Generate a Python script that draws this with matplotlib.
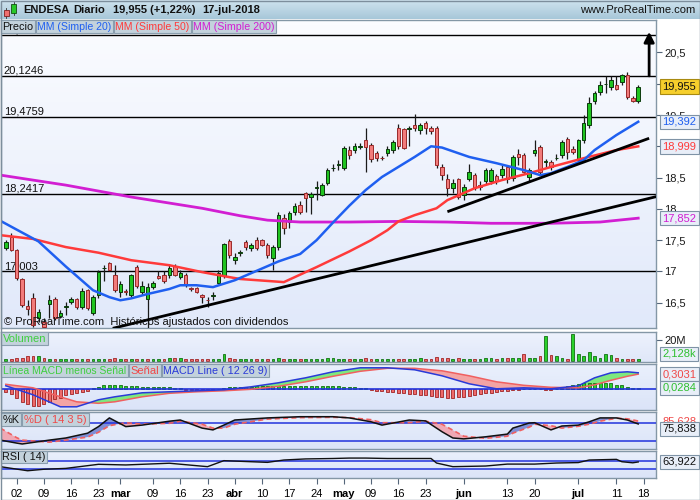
import numpy as np
import pandas as pd
import matplotlib
matplotlib.use("Agg")
import matplotlib.pyplot as plt
from matplotlib.patches import Rectangle
from matplotlib.colors import LinearSegmentedColormap

plt.rcParams['font.family'] = ['Liberation Sans', 'DejaVu Sans']

# ---------------- data ----------------
session_start = "2018-01-30"
session_end = "2018-07-20"
holidays = ["2018-03-30", "2018-04-02", "2018-05-01"]
first_day = "2018-01-31"

opens = [17.38, 17.55, 17.34, 16.88, 16.45, 16.58, 16.26, 16.20, 16.48, 16.56,
         16.29, 16.44, 16.51, 16.56, 16.43, 16.70, 16.34, 16.62, 17.05, 17.14,
         16.94, 16.67, 16.69, 16.62, 17.07, 16.67, 16.56, 16.75, 16.93, 16.94,
         16.94, 17.09, 16.91, 16.94, 16.73, 16.74, 16.62, 16.55, 16.61, 16.82,
         16.93, 17.49, 17.18, 17.30, 17.47, 17.38, 17.50, 17.50, 17.42, 17.22,
         17.39, 17.85, 17.79, 17.95, 18.06, 18.25, 18.19, 18.34, 18.22, 18.41,
         18.65, 18.70, 18.65, 18.94, 18.94, 18.99, 19.10, 19.02, 18.89, 18.82,
         18.89, 18.94, 19.29, 19.27, 19.28, 19.34, 19.26, 19.37, 19.29, 19.29,
         18.67, 18.48, 18.33, 18.48, 18.22, 18.48, 18.54, 18.38, 18.44, 18.45,
         18.52, 18.54, 18.67, 18.49, 18.88, 18.86, 18.51, 18.89, 18.99, 18.75,
         18.75, 18.81, 18.86, 19.11, 18.95, 18.78, 19.10, 19.34, 19.72, 19.87,
         19.99, 19.95, 19.98, 20.03, 20.14, 19.77, 19.72]
highs = [17.50, 17.62, 17.36, 16.90, 16.55, 16.66, 16.40, 16.25, 16.62, 16.60,
         16.38, 16.52, 16.60, 16.58, 16.73, 16.72, 16.62, 17.03, 17.10, 17.15,
         17.10, 16.85, 16.72, 16.96, 17.10, 16.85, 16.82, 16.85, 17.00, 17.00,
         17.12, 17.12, 17.03, 16.97, 16.76, 16.76, 16.64, 16.60, 16.68, 17.02,
         17.45, 17.52, 17.30, 17.35, 17.50, 17.45, 17.55, 17.52, 17.46, 17.42,
         17.95, 17.92, 17.97, 18.10, 18.12, 18.27, 18.27, 18.45, 18.42, 18.65,
         18.72, 18.78, 19.00, 19.00, 19.05, 19.05, 19.29, 19.05, 18.93, 18.85,
         19.00, 19.10, 19.35, 19.30, 19.32, 19.52, 19.38, 19.40, 19.32, 19.32,
         18.72, 18.55, 18.48, 18.50, 18.40, 18.72, 18.58, 18.45, 18.65, 18.65,
         18.56, 18.70, 18.70, 18.86, 18.95, 18.90, 18.65, 19.10, 19.02, 18.80,
         18.78, 18.88, 19.10, 19.15, 19.00, 19.12, 19.50, 19.78, 19.88, 20.05,
         20.12, 20.12, 20.12, 20.15, 20.18, 19.80, 19.98]
lows = [17.35, 17.32, 16.87, 16.44, 16.30, 16.12, 16.20, 16.10, 16.25, 16.22,
        16.25, 16.30, 16.48, 16.40, 16.40, 16.38, 16.30, 16.58, 16.85, 17.00,
        16.68, 16.60, 16.62, 16.60, 16.73, 16.63, 16.05, 16.72, 16.88, 16.82,
        16.90, 16.92, 16.88, 16.75, 16.69, 16.65, 16.50, 16.44, 16.55, 16.80,
        16.90, 17.22, 17.12, 17.25, 17.35, 17.33, 17.35, 17.40, 17.22, 17.02,
        17.35, 17.60, 17.70, 17.90, 17.92, 17.95, 17.92, 18.15, 18.20, 18.38,
        18.60, 18.62, 18.62, 18.80, 18.90, 18.95, 18.59, 18.75, 18.76, 18.78,
        18.85, 18.90, 18.95, 18.95, 19.00, 19.25, 19.20, 19.20, 19.20, 18.65,
        18.46, 18.20, 18.25, 18.16, 18.14, 18.45, 18.30, 18.30, 18.40, 18.40,
        18.40, 18.50, 18.42, 18.45, 18.70, 18.55, 18.45, 18.85, 18.55, 18.65,
        18.62, 18.78, 18.82, 18.80, 18.88, 18.75, 19.05, 19.30, 19.68, 19.82,
        19.85, 19.90, 19.90, 19.98, 19.75, 19.70, 19.69]
closes = [17.47, 17.34, 16.90, 16.47, 16.40, 16.15, 16.36, 16.12, 16.54, 16.26,
          16.34, 16.45, 16.56, 16.43, 16.69, 16.42, 16.59, 16.99, 17.06, 17.02,
          16.71, 16.80, 16.67, 16.94, 16.77, 16.77, 16.75, 16.82, 16.90, 16.85,
          17.06, 16.94, 16.98, 16.78, 16.72, 16.67, 16.60, 16.54, 16.62, 16.98,
          17.44, 17.26, 17.23, 17.31, 17.39, 17.42, 17.37, 17.42, 17.26, 17.39,
          17.90, 17.69, 17.93, 18.05, 17.95, 18.17, 18.24, 18.35, 18.38, 18.62,
          18.66, 18.71, 18.97, 18.86, 19.00, 19.00, 18.99, 18.80, 18.81, 18.81,
          18.96, 19.07, 19.00, 18.98, 19.29, 19.29, 19.34, 19.29, 19.24, 18.70,
          18.54, 18.33, 18.41, 18.19, 18.35, 18.59, 18.33, 18.35, 18.62, 18.62,
          18.44, 18.64, 18.47, 18.83, 18.83, 18.59, 18.62, 18.94, 18.59, 18.75,
          18.67, 18.82, 19.07, 18.91, 18.91, 19.10, 19.37, 19.69, 19.85, 19.98,
          20.00, 20.06, 19.92, 20.14, 19.79, 19.72, 19.955]
volumes_m = [1.6, 1.6, 2.5, 3.1, 4.5, 4.5, 5.0, 2.5, 2.2, 1.6,
             1.6, 1.8, 1.6, 1.5, 1.8, 1.6, 1.6, 2.0, 1.6, 1.6,
             2.5, 1.6, 1.5, 1.6, 1.8, 1.6, 2.0, 1.6, 1.5, 2.0,
             2.5, 2.5, 2.5, 1.6, 1.6, 1.6, 1.8, 2.0, 1.6, 2.2,
             7.0, 2.5, 1.6, 1.6, 1.6, 1.6, 2.0, 1.6, 1.6, 2.0,
             2.5, 1.6, 1.6, 1.6, 1.6, 2.0, 1.6, 1.6, 1.6, 2.5,
             2.5, 1.6, 1.6, 1.6, 1.6, 1.6, 3.0, 1.6, 1.6, 1.6,
             1.6, 1.6, 1.6, 1.6, 1.6, 1.6, 2.5, 2.0, 1.6, 4.0,
             2.5, 2.5, 2.0, 2.5, 2.0, 2.0, 2.0, 2.0, 2.5, 2.5,
             2.0, 2.5, 3.0, 2.5, 3.0, 6.5, 2.5, 2.5, 4.8, 24.0,
             5.7, 4.8, 3.2, 1.6, 26.0, 6.4, 4.8, 8.5, 4.8, 3.2,
             7.0, 5.7, 3.2, 1.6, 1.6, 1.6, 2.128]
macd_hist = [-0.05, -0.10, -0.18, -0.25, -0.30, -0.33, -0.33, -0.30, -0.25, -0.20,
             -0.17, -0.12, -0.10, -0.08, -0.05, -0.03, 0.02,
             0.05, 0.08, 0.09, 0.09, 0.08, 0.07, 0.07, 0.06, 0.05, 0.05, 0.05, 0.04,
             0.04, 0.04, 0.03, 0.02,
             -0.01, -0.02, -0.03, -0.03, -0.03, -0.02, 0.00,
             0.03, 0.04, 0.04, 0.05, 0.05, 0.05, 0.06, 0.06, 0.06, 0.06, 0.07, 0.07,
             0.07, 0.07, 0.07, 0.07, 0.07, 0.07, 0.07, 0.07, 0.06, 0.06, 0.05,
             0.04, 0.04, 0.03, 0.02,
             -0.02, -0.03, -0.04, -0.05, -0.06, -0.07, -0.08, -0.09, -0.10, -0.11,
             -0.12, -0.13, -0.15, -0.16, -0.17, -0.17, -0.16, -0.15, -0.13, -0.12,
             -0.10, -0.08, -0.07, -0.05, -0.04, -0.03,
             -0.02, -0.01, 0.00, 0.01, 0.01, 0.00, -0.01, -0.01,
             0.01, 0.03, 0.06, 0.08, 0.10, 0.12, 0.13, 0.13, 0.13, 0.13, 0.12, 0.09,
             0.08, 0.05, 0.03, 0.0284]

ma20_dates = ['01-30', '02-08', '02-15', '02-22', '02-27', '03-01', '03-05', '03-08',
              '03-14', '03-16', '03-21', '03-26', '04-03', '04-13', '04-19', '04-24',
              '04-27', '05-03', '05-08', '05-11', '05-16', '05-21', '05-24', '05-28',
              '06-04', '06-11', '06-18', '06-21', '06-25', '06-28', '07-03', '07-05',
              '07-11', '07-17']
ma20_vals = [17.81, 17.48, 17.08, 16.70, 16.59, 16.54, 16.57, 16.64, 16.72, 16.78,
             16.78, 16.75, 16.86, 17.16, 17.28, 17.50, 17.78, 18.05, 18.30, 18.51,
             18.67, 18.83, 19.00, 18.98, 18.83, 18.73, 18.62, 18.54, 18.57, 18.67,
             18.78, 18.94, 19.18, 19.392]
ma50_dates = ['01-30', '02-07', '02-15', '02-23', '03-05', '03-14', '03-22', '03-29',
              '04-04', '04-16', '04-24', '05-03', '05-09', '05-14', '05-16', '05-21',
              '05-25', '05-29', '06-05', '06-12', '06-19', '06-25', '07-03', '07-11',
              '07-17']
ma50_vals = [17.58, 17.52, 17.39, 17.30, 17.18, 17.10, 16.99, 16.91, 16.88, 16.83,
             17.07, 17.32, 17.50, 17.66, 17.80, 17.90, 18.01, 18.14, 18.33, 18.46,
             18.57, 18.67, 18.81, 18.94, 18.999]
ma200_dates = ['01-30', '02-15', '03-05', '03-22', '04-04', '04-11', '04-19', '05-03',
               '05-16', '05-29', '06-08', '06-25', '07-06', '07-17']
ma200_vals = [18.54, 18.38, 18.19, 18.01, 17.89, 17.82, 17.79, 17.79, 17.80, 17.79,
              17.77, 17.77, 17.79, 17.852]

macd_dates = ['01-31', '02-07', '02-14', '02-19', '02-23', '02-28', '03-07', '03-14',
              '03-21', '03-28', '04-06', '04-13', '04-20', '04-27', '05-07', '05-14',
              '05-21', '05-28', '06-04', '06-11', '06-18', '06-25', '07-02', '07-05',
              '07-10', '07-13', '07-17']
macd_line = [0.07, -0.11, -0.35, -0.35, -0.21, -0.15, -0.07, -0.05, -0.03, -0.01,
             0.05, 0.13, 0.23, 0.35, 0.43, 0.43, 0.39, 0.27, 0.11, 0.01, 0.03, 0.01,
             0.07, 0.23, 0.33, 0.35, 0.33]
macd_signal = [0.10, 0.03, -0.15, -0.25, -0.28, -0.25, -0.15, -0.08, -0.05, -0.03,
               0.00, 0.06, 0.15, 0.26, 0.36, 0.42, 0.42, 0.37, 0.27, 0.15, 0.08, 0.04,
               0.03, 0.09, 0.18, 0.26, 0.3031]

stoch_dates = ['01-30', '02-02', '02-05', '02-12', '02-15', '02-21', '02-23', '02-27',
               '03-02', '03-07', '03-14', '03-16', '03-22', '03-26', '03-28', '04-03',
               '04-11', '04-19', '04-27', '05-03', '05-09', '05-11', '05-18', '05-23',
               '05-28', '05-30', '06-01', '06-07', '06-13', '06-14', '06-19', '06-20',
               '06-25', '06-27', '07-02', '07-04', '07-06', '07-11', '07-13', '07-17']
stoch_k = [22, 12, 9, 22, 29, 45, 67, 96, 67, 72, 85, 89, 62, 56, 72, 89, 96, 100, 100, 96,
           83, 72, 89, 86, 50, 29, 26, 33, 42, 62, 79, 80, 56, 69, 72, 83, 96, 96, 89, 75.838]
stoch_d = [62, 30, 22, 15, 22, 32, 48, 70, 80, 75, 78, 85, 75, 62, 62, 75, 92, 97, 98, 97,
           90, 80, 80, 85, 75, 55, 35, 28, 35, 45, 65, 75, 70, 62, 68, 75, 85, 95, 93, 85.628]

rsi_dates = ['01-30', '02-06', '02-09', '02-15', '02-23', '03-02', '03-14', '03-23',
             '03-28', '04-11', '04-16', '04-20', '04-27', '05-03', '05-08', '05-14',
             '05-24', '05-25', '05-30', '06-07', '06-13', '06-20', '06-26', '07-02',
             '07-04', '07-11', '07-12', '07-16', '07-17']
rsi_vals = [42, 23, 30, 34, 53, 50, 58, 42, 70, 62, 73, 78, 80, 82, 82, 80, 80, 59, 42,
            45, 54, 54, 59, 61, 73, 76, 65, 60, 63.922]

level_vals = [20.7733, 20.1246, 19.4759, 18.2417, 17.003]
level_labels = ['20,7733', '20,1246', '19,4759', '18,2417', '17,003']
trend_long = [('02-28', 16.10), ('07-17', 18.126)]
trend_short = [('05-29', 17.955), ('07-19', 19.128)]
arrow_date = '07-19'
arrow_from, arrow_to = 20.1246, 20.83

price_ticks = [16.5, 17, 17.5, 18, 18.5, 19, 19.5, 20, 20.5]
price_tick_labels = ['16,5', '17', '17,5', '18', '18,5', '', '19,5', '', '20,5']

tick_dates = ['02-02', '02-09', '02-16', '02-23', '03-01', '03-09', '03-16', '03-23',
              '04-03', '04-10', '04-17', '04-24', '05-02', '05-09', '05-16', '05-23',
              '06-01', '06-13', '06-20', '07-02', '07-11', '07-18']
tick_labels = ['02', '09', '16', '23', 'mar', '09', '16', '23', 'abr', '10', '17', '24',
               'may', '09', '16', '23', 'jun', '13', '20', 'jul', '11', '18']
month_labels = {'mar', 'abr', 'may', 'jun', 'jul'}

# ---------------- calendar ----------------
cal = pd.bdate_range(session_start, session_end)
cal = cal[~cal.isin(pd.to_datetime(holidays))]
pos = {d: i for i, d in enumerate(cal)}


def P(md):
    return pos[pd.Timestamp('2018-' + md)]


def PL(mds):
    return np.array([P(m) for m in mds], dtype=float)


x0 = pos[pd.Timestamp(first_day)]
xd = np.arange(len(closes)) + x0
o, h, l, c = map(np.array, (opens, highs, lows, closes))
XLIM = (0.12, 120.26)

# ---------------- figure ----------------
W, H = 700, 500
fig = plt.figure(figsize=(7, 5), dpi=100)
fig.patch.set_facecolor('white')


def rect(a, b, cc, d):
    return [a / W, 1 - d / H, (cc - a) / W, (d - b) / H]


def grad(ax, top, bottom):
    cmap = LinearSegmentedColormap.from_list('g', [bottom, top])
    ax.imshow(np.linspace(0, 1, 64).reshape(-1, 1), cmap=cmap, origin='lower',
              extent=[0, 1, 0, 1], transform=ax.transAxes, aspect='auto', zorder=-10)


SP = '#8497a6'
FS = 8


def style(ax):
    for s in ax.spines.values():
        s.set_color(SP)
        s.set_linewidth(1)
    ax.yaxis.tick_right()
    ax.tick_params(axis='y', direction='out', length=4, color='#55667a',
                   labelsize=FS, pad=2, labelcolor='#1a1a1a')
    ax.tick_params(axis='x', bottom=False, labelbottom=False)
    ax.set_xlim(*XLIM)


def vbox(ax, y, text, tc, fc='#e8eef8', ec='#7f93a6', va='center'):
    ax.text(1.010, y, text, transform=ax.get_yaxis_transform(), ha='left', va=va,
            fontsize=FS, color=tc, zorder=30, clip_on=False,
            bbox=dict(boxstyle='square,pad=0.2', fc=fc, ec=ec, lw=0.8))


# ---- header ----
axh = fig.add_axes(rect(0, 0, 700, 19))
grad(axh, '#cfe3ee', '#a7c7d9')
axh.set_xlim(0, 700)
axh.set_ylim(19, 0)
axh.axis('off')
axh.add_patch(Rectangle((3.5, 10), 5, 6, fc='#f07070', ec='#802020', lw=0.6))
axh.plot([6, 6], [8, 18], color='#333', lw=0.6, zorder=0)
axh.add_patch(Rectangle((11, 4), 5, 9, fc='#28c828', ec='#105010', lw=0.6))
axh.plot([13.5, 13.5], [2, 15], color='#333', lw=0.6, zorder=0)
for txt, xp in [("ENDESA", 23), ("Diario", 73), ("19,955 (+1,22%)", 113), ("17-jul-2018", 202)]:
    axh.text(xp, 10, txt, fontsize=8, fontweight='bold', va='center', ha='left', color='#111')
axh.text(695, 10, "www.ProRealTime.com", fontsize=8, va='center', ha='right', color='#111')

# ---- price panel ----
axp = fig.add_axes(rect(1, 20, 656, 328))
grad(axp, '#fbfcff', '#e1e9fa')
style(axp)
for v, lab in zip(level_vals, level_labels):
    axp.axhline(v, color='black', lw=1, zorder=2)
    axp.text(0.004, v, lab, transform=axp.get_yaxis_transform(), va='bottom', ha='left',
             fontsize=FS, color='#111', zorder=2)

axp.vlines(xd, l, h, color='#1a1a1a', lw=0.9, zorder=3)
up = c >= o
bb = np.minimum(o, c)
bh = np.maximum(np.abs(c - o), 0.008)
axp.bar(xd[up], bh[up], bottom=bb[up], width=0.64, color='#20c420', edgecolor='#0c3a0c',
        lw=0.7, zorder=4)
axp.bar(xd[~up], bh[~up], bottom=bb[~up], width=0.64, color='#f27b7b', edgecolor='#9a2a2a',
        lw=0.7, zorder=4)

axp.plot(PL(ma200_dates), ma200_vals, color='#d21ed2', lw=2, zorder=5)
axp.plot(PL(ma50_dates), ma50_vals, color='#ff3a3a', lw=1.8, zorder=5)
axp.plot(PL(ma20_dates), ma20_vals, color='#1f5ff0', lw=1.8, zorder=5)

(d1, p1), (d2, p2) = trend_long
axp.axline((P(d1), p1), (P(d2), p2), color='black', lw=2, zorder=6)
(d1, p1), (d2, p2) = trend_short
axp.plot([P(d1), P(d2)], [p1, p2], color='black', lw=2, zorder=6, solid_capstyle='butt')
axp.annotate('', xy=(P(arrow_date), arrow_to), xytext=(P(arrow_date), arrow_from),
             arrowprops=dict(arrowstyle='-|>,head_length=0.6,head_width=0.3', color='black',
                             lw=2, shrinkA=0, shrinkB=0), zorder=7)

axp.set_ylim(16.097, 21.018)
axp.set_yticks(price_ticks)
axp.set_yticklabels(price_tick_labels)
axp.text(0.004, 0.02, "© ProRealTime.com  Históricos ajustados con dividendos",
         transform=axp.transAxes, fontsize=FS, va='center', ha='left', color='#111', zorder=8)
vbox(axp, c[-1], '19,955', '#111', fc='#f6cf2c', ec='#a88a10')
vbox(axp, ma20_vals[-1], '19,392', '#1f5ff0')
vbox(axp, ma50_vals[-1], '18,999', '#ff3a3a')
vbox(axp, ma200_vals[-1], '17,852', '#d21ed2')

# ---- volume ----
axv = fig.add_axes(rect(1, 332, 656, 362))
grad(axv, '#eef2fd', '#dfe7f9')
style(axv)
vol = np.array(volumes_m)
vup = np.r_[True, c[1:] >= c[:-1]]
axv.bar(xd[vup], vol[vup], width=0.5, color='#2ad02a', edgecolor='#127012', lw=0.6)
axv.bar(xd[~vup], vol[~vup], width=0.5, color='#ee6a6a', edgecolor='#a02424', lw=0.6)
axv.set_ylim(-0.95, 27.6)
axv.set_yticks([20])
axv.set_yticklabels(['20M'])
vbox(axv, vol[-1], '2,128k', '#2fbf2f', va='bottom')

# ---- MACD ----
axm = fig.add_axes(rect(1, 364, 656, 410))
grad(axm, '#eaf0fc', '#dbe4f8')
style(axm)
mx = PL(macd_dates)
ml = np.array(macd_line)
sg = np.array(macd_signal)
axm.fill_between(mx, ml, sg, where=ml >= sg, interpolate=True, color='#7ee87e', lw=0, zorder=2)
axm.fill_between(mx, ml, sg, where=ml < sg, interpolate=True, color='#f3a4a4', lw=0, zorder=2)
hist = np.array(macd_hist)
axm.bar(xd[hist >= 0], hist[hist >= 0], width=0.55, color='#2ad02a', edgecolor='#127012',
        lw=0.6, zorder=3)
axm.bar(xd[hist < 0], hist[hist < 0], width=0.55, color='#ee6a6a', edgecolor='#a02424',
        lw=0.6, zorder=3)
axm.axhline(0, color='#2233dd', lw=1.2, zorder=4)
axm.plot(mx, sg, color='#f06060', lw=1.1, zorder=5)
axm.plot(mx, ml, color='#2a3ad8', lw=1.1, zorder=5)
axm.set_ylim(-0.414, 0.506)
axm.set_yticks([])
vbox(axm, macd_signal[-1], '0,3031', '#f04848')
vbox(axm, macd_hist[-1], '0,0284', '#2fbf2f')

# ---- Stochastic ----
axs = fig.add_axes(rect(1, 412, 656, 449))
grad(axs, '#eaf0fc', '#dbe4f8')
style(axs)
sx = PL(stoch_dates)
kk = np.array(stoch_k, dtype=float)
dd = np.array(stoch_d, dtype=float)
axs.fill_between(sx, kk, dd, where=kk >= dd, interpolate=True, color='#7f8fd6', lw=0, zorder=2)
axs.fill_between(sx, kk, dd, where=kk < dd, interpolate=True, color='#f0a8b4', lw=0, zorder=2)
for lv in (20, 80):
    axs.axhline(lv, color='#2233dd', lw=1.1, zorder=3)
axs.plot(sx, dd, color='#f06060', lw=1.2, ls=(0, (3, 2)), zorder=4)
axs.plot(sx, kk, color='#111111', lw=1.1, zorder=5)
axs.set_ylim(-7.7, 115.7)
axs.set_yticks([])
axs.text(1.010, stoch_d[-1], '85,628', transform=axs.get_yaxis_transform(), ha='left',
         va='center', fontsize=FS, color='#f04848', clip_on=False, zorder=20)
vbox(axs, stoch_k[-1], '75,838', '#111', va='top')

# ---- RSI ----
axr = fig.add_axes(rect(1, 451, 656, 478))
grad(axr, '#eaf0fc', '#dbe4f8')
style(axr)
for lv in (30, 70):
    axr.axhline(lv, color='#2233dd', lw=1.1, zorder=3)
axr.plot(PL(rsi_dates), rsi_vals, color='#111111', lw=1.0, zorder=5)
axr.set_ylim(-10.7, 114.9)
axr.set_yticks([])
vbox(axr, rsi_vals[-1], '63,922', '#111')
axr.set_xticks(PL(tick_dates))
axr.set_xticklabels(tick_labels)
axr.tick_params(axis='x', bottom=True, labelbottom=True, direction='out', length=4,
                color='#55667a', labelsize=FS, pad=4)
for t in axr.get_xticklabels():
    if t.get_text() in month_labels:
        t.set_fontweight('bold')

# ---- overlay: tag boxes and frame ----
ov = fig.add_axes([0, 0, 1, 1])
ov.set_xlim(0, W)
ov.set_ylim(H, 0)
ov.axis('off')
ov.patch.set_alpha(0)
tags = [
    (20, 33, [("Precio", '#111', 1, 35), ("MM (Simple 20)", '#1f5ff0', 36, 113),
              ("MM (Simple 50)", '#ff3a3a', 114, 191), ("MM (Simple 200)", '#d21ed2', 192, 276)]),
    (332, 345, [("Volumen", '#3fcf3f', 1, 48)]),
    (364, 377, [("Línea MACD menos Señal", '#3fcf3f', 1, 128), ("Señal", '#f04848', 129, 161),
                ("MACD Line ( 12 26 9)", '#2a3ad8', 162, 269)]),
    (413, 426, [("%K", '#111', 1, 21), ("%D ( 14 3 5)", '#f04848', 22, 89)]),
    (451, 463, [("RSI ( 14)", '#111', 1, 47)]),
]
for y0, y1, items in tags:
    for txt, col, a, b in items:
        ov.add_patch(Rectangle((a, y0), b - a, y1 - y0, fc='#c3d2dc', ec='#8a9eae', lw=0.8,
                               zorder=5))
        t = ov.text((a + b) / 2, (y0 + y1) / 2 + 0.5, txt, color=col, fontsize=8, ha='center',
                    va='center', zorder=6)
        # shrink the text if it does not fit in its tag box
        fig.canvas.draw() if False else None
ov.add_patch(Rectangle((0.5, 0.5), W - 1, H - 1, fc='none', ec='#7d8e9c', lw=1, zorder=7))

# fit tag texts to their boxes
renderer = fig.canvas.get_renderer()
for t in ov.texts:
    for y0, y1, items in tags:
        for txt, col, a, b in items:
            if t.get_text() == txt:
                bw = (b - a - 3) / W * fig.bbox.width
                tw = t.get_window_extent(renderer).width
                if tw > bw:
                    t.set_fontsize(8 * bw / tw)

fig.savefig('out.png', dpi=100)
